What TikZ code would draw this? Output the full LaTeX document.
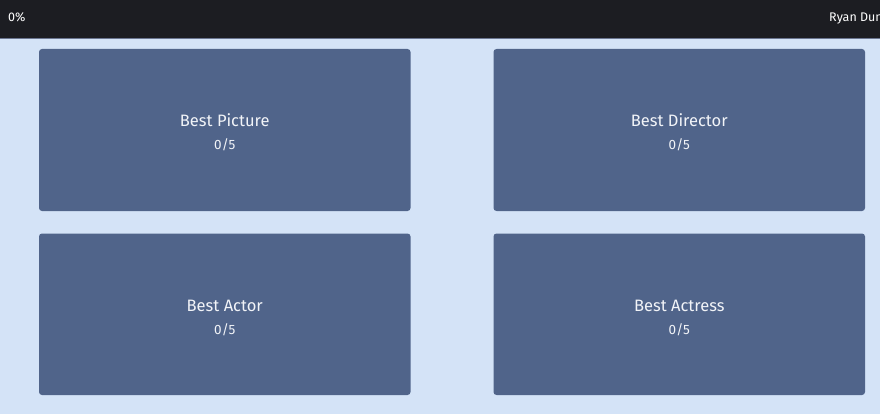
\documentclass[tikz,border=0pt]{standalone}
\usepackage{fontspec}
\setmainfont{Fira Sans}
\definecolor{barcol}{HTML}{1C1D22}
\definecolor{bgcol}{HTML}{D4E3F7}
\definecolor{cardcol}{HTML}{50648A}
\definecolor{txtcol}{HTML}{F2F4F8}
\definecolor{linecol}{HTML}{6A7590}
\tikzset{
  card/.style={fill=cardcol, rounded corners=3pt, draw=none},
  title/.style={text=txtcol, font=\fontsize{16.5}{18}\selectfont, inner sep=0pt, anchor=base},
  score/.style={text=txtcol, font=\fontsize{13.5}{15}\selectfont, inner sep=0pt, anchor=base},
  bartext/.style={text=white, font=\fontsize{12.5}{14}\selectfont, inner sep=0pt, anchor=base west}
}
\begin{document}
\begin{tikzpicture}[x=1pt,y=-1pt]
\useasboundingbox (0,0) rectangle (880,414);
\clip (0,0) rectangle (880,414);
\fill[bgcol] (0,0) rectangle (880,414);
\fill[barcol] (0,0) rectangle (880,38);
\draw[linecol, line width=0.8pt] (0,38.2) -- (880,38.2);
\node[bartext] (pct) at (8,22) {0\%};
\node[bartext] (user) at (829,22) {Ryan Dun};
% cards
\fill[card] (39,49) rectangle (410.5,211);
\fill[card] (493.5,49) rectangle (865,211);
\fill[card] (39,233.5) rectangle (410.5,395);
\fill[card] (493.5,233.5) rectangle (865,395);
\node[title] (t1) at (224.75,127) {Best Picture};
\node[score] (s1) at (224.75,150) {0/5};
\node[title] (t2) at (679.25,127) {Best Director};
\node[score] (s2) at (679.25,150) {0/5};
\node[title] (t3) at (224.75,311) {Best Actor};
\node[score] (s3) at (224.75,334) {0/5};
\node[title] (t4) at (679.25,311) {Best Actress};
\node[score] (s4) at (679.25,334) {0/5};
\end{tikzpicture}
\end{document}
